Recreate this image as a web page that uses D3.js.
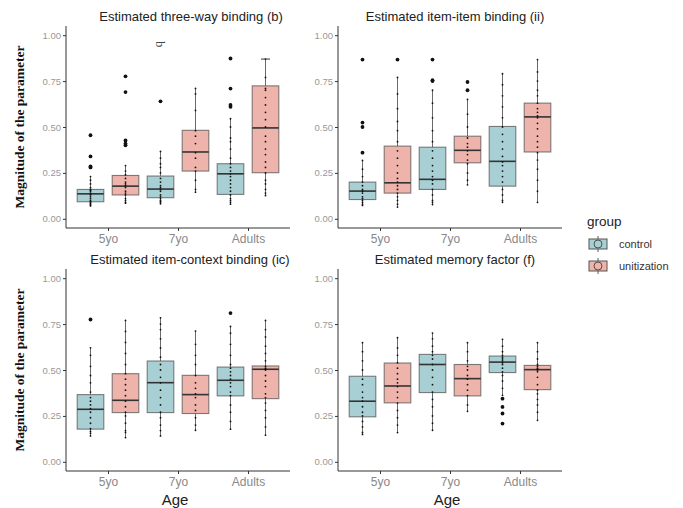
<!DOCTYPE html>
<html>
<head>
<meta charset="utf-8">
<script src="https://cdn.jsdelivr.net/npm/d3@7"></script>
<style>
body { margin: 0; background: #fff; }
svg { font-family: "Liberation Sans", Arial, sans-serif; }
</style>
</head>
<body>
<svg id="chart" width="683" height="508"></svg>
<script>
// categories
const ages = ["5yo", "7yo", "Adults"];
const groups = ["control", "unitization"];
const yTicks = [0, 0.25, 0.5, 0.75, 1];
const titles = ["Estimated three-way binding (b)", "Estimated item-item binding (ii)",
                "Estimated item-context binding (ic)", "Estimated memory factor (f)"];

// box stats [lower whisker, q1, median, q3, upper whisker]; order: c5, u5, c7, u7, cA, uA
const bStats = [[0.07,0.093,0.136,0.16,0.23],[0.085,0.13,0.178,0.236,0.29],[0.082,0.115,0.162,0.233,0.367],
                [0.145,0.26,0.364,0.482,0.71],[0.08,0.133,0.245,0.30,0.545],[0.127,0.251,0.495,0.724,0.87]];
const bOutliers = [[0.28,0.285,0.34,0.455],[0.40,0.41,0.427,0.69,0.776],[0.64],[],[0.61,0.62,0.709,0.873],[]];
const bDots = [[0.07,0.075,0.08,0.085,0.09,0.095,0.10,0.11,0.12,0.13,0.135,0.14,0.15,0.155,0.16,0.17,0.19,0.21,0.23],
               [0.085,0.09,0.10,0.11,0.13,0.14,0.15,0.17,0.18,0.19,0.20,0.22,0.24,0.26,0.29],
               [0.082,0.09,0.095,0.10,0.11,0.12,0.13,0.15,0.16,0.17,0.18,0.20,0.22,0.25,0.28,0.30,0.33,0.367],
               [0.145,0.16,0.21,0.26,0.28,0.33,0.36,0.41,0.45,0.48,0.59,0.68,0.71],
               [0.08,0.09,0.10,0.11,0.13,0.15,0.17,0.19,0.21,0.23,0.245,0.26,0.28,0.30,0.33,0.38,0.42,0.44,0.50,0.545],
               [0.127,0.14,0.16,0.19,0.21,0.25,0.28,0.31,0.35,0.38,0.42,0.45,0.50,0.54,0.58,0.62,0.66,0.70,0.71,0.77,0.87]];

const iiStats = [[0.073,0.105,0.151,0.2,0.318],[0.064,0.14,0.196,0.396,0.77],[0.078,0.16,0.215,0.39,0.70],
                 [0.185,0.305,0.373,0.45,0.65],[0.09,0.178,0.313,0.503,0.79],[0.09,0.364,0.555,0.63,0.867]];
const iiOutliers = [[0.36,0.5,0.524,0.867],[0.867],[0.75,0.755,0.867],[0.70,0.745],[],[]];
const iiDots = [[0.073,0.08,0.09,0.10,0.11,0.12,0.14,0.15,0.16,0.18,0.20,0.23,0.27,0.318],
                [0.064,0.08,0.10,0.12,0.14,0.16,0.18,0.20,0.22,0.25,0.29,0.33,0.37,0.42,0.48,0.53,0.60,0.68,0.77],
                [0.078,0.09,0.10,0.13,0.16,0.19,0.21,0.23,0.26,0.29,0.33,0.37,0.42,0.48,0.55,0.63,0.70],
                [0.185,0.21,0.25,0.30,0.32,0.35,0.37,0.39,0.41,0.44,0.50,0.57,0.65],
                [0.09,0.10,0.13,0.16,0.20,0.23,0.26,0.29,0.31,0.34,0.38,0.42,0.46,0.50,0.55,0.61,0.67,0.73,0.79],
                [0.09,0.15,0.21,0.27,0.32,0.36,0.39,0.42,0.45,0.49,0.52,0.55,0.56,0.58,0.60,0.63,0.67,0.70,0.75,0.80,0.867]];

const icStats = [[0.141,0.178,0.286,0.366,0.621],[0.132,0.268,0.335,0.48,0.77],[0.141,0.268,0.431,0.549,0.784],
                 [0.172,0.263,0.366,0.471,0.712],[0.178,0.359,0.444,0.516,0.737],[0.145,0.344,0.504,0.522,0.77]];
const icOutliers = [[0.775],[],[],[],[0.81],[]];
const icDots = [[0.141,0.155,0.165,0.18,0.21,0.24,0.27,0.29,0.31,0.33,0.35,0.38,0.43,0.47,0.52,0.58,0.621],
                [0.132,0.16,0.17,0.21,0.25,0.27,0.30,0.33,0.36,0.39,0.42,0.45,0.48,0.53,0.59,0.65,0.71,0.77],
                [0.141,0.17,0.20,0.24,0.27,0.31,0.35,0.39,0.43,0.46,0.50,0.53,0.57,0.62,0.67,0.72,0.75,0.784],
                [0.172,0.20,0.24,0.28,0.31,0.35,0.37,0.40,0.43,0.47,0.53,0.58,0.64,0.712],
                [0.178,0.22,0.27,0.31,0.36,0.38,0.41,0.43,0.45,0.47,0.49,0.51,0.53,0.58,0.64,0.70,0.737],
                [0.145,0.19,0.24,0.28,0.32,0.35,0.37,0.41,0.44,0.47,0.50,0.505,0.51,0.52,0.55,0.59,0.63,0.68,0.72,0.77]];

const fStats = [[0.149,0.245,0.33,0.466,0.649],[0.159,0.321,0.413,0.538,0.676],[0.172,0.377,0.53,0.585,0.701],
                [0.275,0.359,0.453,0.53,0.649],[0.362,0.486,0.543,0.576,0.667],[0.226,0.393,0.502,0.525,0.649]];
const fOutliers = [[],[],[],[],[0.208,0.263,0.299,0.344],[]];
const fDots = [[0.149,0.16,0.19,0.22,0.25,0.27,0.30,0.33,0.35,0.38,0.42,0.45,0.50,0.55,0.60,0.649],
               [0.159,0.20,0.24,0.28,0.32,0.35,0.38,0.41,0.43,0.45,0.48,0.51,0.54,0.58,0.62,0.676],
               [0.172,0.21,0.25,0.30,0.34,0.38,0.42,0.46,0.50,0.53,0.56,0.58,0.60,0.63,0.67,0.701],
               [0.275,0.31,0.36,0.39,0.42,0.45,0.47,0.50,0.52,0.55,0.60,0.649],
               [0.362,0.40,0.44,0.47,0.49,0.51,0.53,0.54,0.55,0.56,0.57,0.58,0.60,0.63,0.667],
               [0.226,0.27,0.31,0.34,0.37,0.39,0.42,0.46,0.49,0.50,0.505,0.51,0.52,0.53,0.56,0.60,0.649]];

const colors = {"control": "#a8cfd3", "unitization": "#eeb3aa"};

const svg = d3.select("#chart");

const panels = [
	{title: titles[0], stats: bStats,  outs: bOutliers,  dots: bDots,  x0: 66,  x1: 290, top: 26,  bottom: 228, tx: 191, left: true,  ageLabel: false},
	{title: titles[1], stats: iiStats, outs: iiOutliers, dots: iiDots, x0: 338, x1: 562, top: 26,  bottom: 228, tx: 455, left: false, ageLabel: false},
	{title: titles[2], stats: icStats, outs: icOutliers, dots: icDots, x0: 66,  x1: 290, top: 269, bottom: 471, tx: 190, left: true,  ageLabel: true},
	{title: titles[3], stats: fStats,  outs: fOutliers,  dots: fDots,  x0: 338, x1: 562, top: 269, bottom: 471, tx: 455, left: false, ageLabel: true}
];

panels.forEach((p, pi) => {
	let g = svg.append("g");
	let xscale = d3.scaleLinear().domain([0.4, 3.6]).range([p.x0, p.x1]);
	let yscale = d3.scaleLinear().domain([-0.05, 1.05]).range([p.bottom, p.top]);
	let bw = 0.38 * (xscale(1) - xscale(0));

	// boxes
	p.stats.forEach((s, i) => {
		let cat = Math.floor(i / 2);
		let grp = groups[i % 2];
		let cx = xscale(cat + 1 + (i % 2 == 0 ? -0.25 : 0.25));

		g.append("line")
		 .attr("x1", cx).attr("x2", cx)
		 .attr("y1", yscale(s[0])).attr("y2", yscale(s[4]))
		 .attr("stroke", "#444").attr("stroke-width", 0.8);

		g.append("rect")
		 .attr("x", cx - bw/2).attr("width", bw)
		 .attr("y", yscale(s[3])).attr("height", yscale(s[1]) - yscale(s[3]))
		 .attr("fill", colors[grp])
		 .attr("stroke", "#555").attr("stroke-opacity", 0.75).attr("stroke-width", 1.1);

		g.append("line")
		 .attr("x1", cx - bw/2).attr("x2", cx + bw/2)
		 .attr("y1", yscale(s[2])).attr("y2", yscale(s[2]))
		 .attr("stroke", "#333").attr("stroke-width", 1.6);

		g.selectAll(null)
		 .data(p.dots[i])
		 .join("circle")
		 .attr("cx", cx).attr("cy", d => yscale(d))
		 .attr("r", 0.9).attr("fill", "#111");

		g.selectAll(null)
		 .data(p.outs[i])
		 .join("circle")
		 .attr("cx", cx).attr("cy", d => yscale(d))
		 .attr("r", 1.9).attr("fill", "#111");

		// whisker cap seen only on the adults/unitization box of panel b
		if (pi == 0 && i == 5) {
			g.append("line")
			 .attr("x1", cx - 4.5).attr("x2", cx + 4.5)
			 .attr("y1", yscale(s[4])).attr("y2", yscale(s[4]))
			 .attr("stroke", "#333").attr("stroke-width", 1);
		}
	});

	// stray "b" annotation in panel b
	if (pi == 0) {
		g.append("text")
		 .attr("transform", "translate(" + xscale(2 - 0.25) + "," + yscale(0.95) + ") rotate(90)")
		 .attr("text-anchor", "middle").attr("dy", "0.35em")
		 .style("font-family", "Liberation Serif, serif").style("font-size", "12px")
		 .attr("fill", "#444").text("b");
	}

	// y axis
	let yAxis = g.append("g").attr("transform", "translate(" + p.x0 + ",0)")
		.call(d3.axisLeft(yscale).tickValues(yTicks).tickFormat(d3.format(".2f")).tickSize(3).tickSizeOuter(0));
	yAxis.select(".domain").attr("d", "M0," + p.top + "V" + p.bottom).attr("stroke", "#333").attr("stroke-width", 1);
	yAxis.selectAll(".tick line").attr("stroke", "#333");
	yAxis.selectAll(".tick text").attr("fill", "#999").style("font-size", "9.5px").attr("x", -5)
		.style("font-family", "Liberation Sans, Arial, sans-serif");

	// x axis
	let xAxis = g.append("g").attr("transform", "translate(0," + p.bottom + ")")
		.call(d3.axisBottom(xscale).tickValues([1, 2, 3]).tickFormat(d => ages[d - 1]).tickSize(3).tickSizeOuter(0));
	xAxis.select(".domain").attr("d", "M" + p.x0 + ",0H" + p.x1).attr("stroke", "#333").attr("stroke-width", 1);
	xAxis.selectAll(".tick line").attr("stroke", "#333");
	xAxis.selectAll(".tick text").attr("fill", "#888").style("font-size", "12px").attr("y", 6)
		.style("font-family", "Liberation Sans, Arial, sans-serif");

	// title
	g.append("text")
	 .attr("x", p.tx).attr("y", p.top - 5)
	 .attr("text-anchor", "middle").style("font-size", "13px").attr("fill", "#222")
	 .text(p.title);

	if (p.left) {
		g.append("text")
		 .attr("transform", "translate(24," + ((p.top + p.bottom) / 2) + ") rotate(-90)")
		 .attr("text-anchor", "middle")
		 .style("font-family", "Liberation Serif, 'Times New Roman', serif")
		 .style("font-weight", "bold").style("font-size", "13.5px").attr("fill", "#111")
		 .text("Magnitude of the parameter");
	}

	if (p.ageLabel) {
		g.append("text")
		 .attr("x", (p.x0 + p.x1) / 2 - 3).attr("y", 505)
		 .attr("text-anchor", "middle").style("font-size", "15px").attr("fill", "#222")
		 .text("Age");
	}
});

// legend
let legend = svg.append("g").attr("transform", "translate(587,226)");
legend.append("text").attr("x", 0).attr("y", 0).style("font-size", "13.5px").attr("fill", "#222").text("group");
groups.forEach((grp, i) => {
	let ky = 18 + i * 22;
	let k = legend.append("g").attr("transform", "translate(0," + ky + ")");
	k.append("line").attr("x1", 11).attr("x2", 11).attr("y1", -8).attr("y2", 8).attr("stroke", "#333").attr("stroke-width", 0.8);
	k.append("rect").attr("x", 2).attr("y", -5).attr("width", 18).attr("height", 10)
	 .attr("fill", colors[grp]).attr("stroke", "#555").attr("stroke-width", 1);
	k.append("circle").attr("cx", 11).attr("cy", 0).attr("r", 4)
	 .attr("fill", colors[grp]).attr("stroke", "#333").attr("stroke-width", 0.8);
	legend.append("text").attr("x", 32).attr("y", ky).attr("dy", "0.35em")
	 .style("font-size", "11px").attr("fill", "#333").text(grp);
});
</script>
</body>
</html>
